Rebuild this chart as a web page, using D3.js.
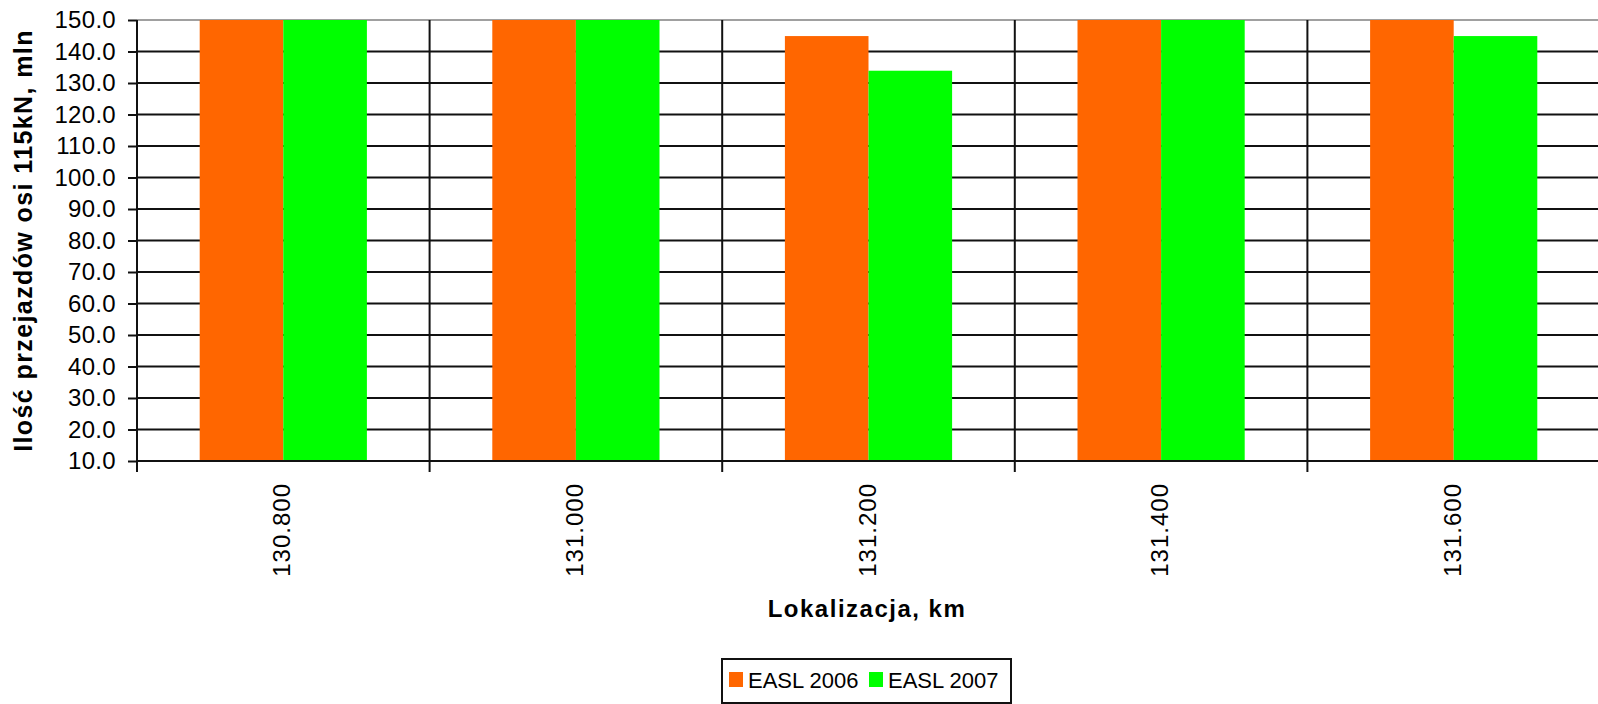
<!DOCTYPE html>
<html>
<head>
<meta charset="utf-8">
<script src="https://cdn.jsdelivr.net/npm/d3@7/dist/d3.min.js"></script>
<style>
  body { margin: 0; background: #fff; }
  text { font-family: Arial, "Liberation Sans", sans-serif; fill: #000; }
</style>
</head>
<body>
<div id="chart"></div>
<script>
// data (bars above 150 are clipped by the axis)
var categories = ["130.800", "131.000", "131.200", "131.400", "131.600"];
var seriesNames = ["EASL 2006", "EASL 2007"];
var easl2006 = [150, 150, 144.9, 150, 150];
var easl2007 = [150, 150, 133.9, 150, 144.9];
var yTicks = [10, 20, 30, 40, 50, 60, 70, 80, 90, 100, 110, 120, 130, 140, 150];
var colors = ["#ff6600", "#00ff00"];

var width = 1598, height = 704;
var margin = { left: 137, top: 20, right: -2, bottom: 243 };
var plotW = width - margin.left - margin.right,
	plotH = height - margin.top - margin.bottom;

var svg = d3.select("#chart").append("svg")
	.attr("width", width)
	.attr("height", height);

var x = d3.scaleBand()
	.domain(categories)
	.range([margin.left, margin.left + plotW])
	.padding(0);

// gap of 1.5 bar widths per category, split on both sides
var inner = d3.scaleBand()
	.domain(seriesNames)
	.range([0, x.bandwidth()])
	.paddingInner(0)
	.paddingOuter(0.75);

var y = d3.scaleLinear()
	.domain([10, 150])
	.range([margin.top + plotH, margin.top]);

//
// grid
//
var grid = svg.append("g").attr("class", "grid");
grid.selectAll("line.h")
	.data(yTicks)
	.enter()
	.append("line")
	.attr("x1", margin.left)
	.attr("x2", margin.left + plotW)
	.attr("y1", function(d) { return y(d); })
	.attr("y2", function(d) { return y(d); })
	.attr("stroke", function(d) { return d === 150 ? "#a0a0a0" : "#111"; })
	.attr("stroke-width", 2);

grid.selectAll("line.v")
	.data(categories.slice(1))
	.enter()
	.append("line")
	.attr("x1", function(d) { return x(d); })
	.attr("x2", function(d) { return x(d); })
	.attr("y1", margin.top)
	.attr("y2", margin.top + plotH)
	.attr("stroke", "#111")
	.attr("stroke-width", 2);

//
// bars
//
var rows = categories.map(function(c, i) {
	return { cat: c, vals: [easl2006[i], easl2007[i]] };
});

var groups = svg.append("g").attr("class", "bars")
	.selectAll("g")
	.data(rows)
	.enter()
	.append("g")
	.attr("transform", function(d) { return "translate(" + x(d.cat) + ",0)"; });

groups.selectAll("rect")
	.data(function(d) { return d.vals.map(function(v, i) { return { s: seriesNames[i], v: v, i: i }; }); })
	.enter()
	.append("rect")
	.attr("x", function(d) { return inner(d.s); })
	.attr("width", inner.bandwidth())
	.attr("y", function(d) { return y(Math.min(d.v, 150)); })
	.attr("height", function(d) { return y(10) - y(Math.min(d.v, 150)); })
	.attr("fill", function(d) { return colors[d.i]; });

//
// axes
//
var yAxis = svg.append("g")
	.attr("transform", "translate(" + margin.left + ",0)")
	.call(d3.axisLeft(y).tickValues(yTicks).tickFormat(d3.format(".1f")).tickSize(9).tickPadding(12));
yAxis.select(".domain").attr("stroke", "#111").attr("stroke-width", 2)
	.attr("d", "M0," + y(150) + "V" + (y(10) + 11));
yAxis.selectAll(".tick line").attr("stroke", "#111").attr("stroke-width", 2);
yAxis.selectAll(".tick text")
	.attr("font-size", 24)
	.attr("font-family", "Arial, 'Liberation Sans', sans-serif")
	.attr("letter-spacing", 0.3)
	.attr("fill", "#000");

var xAxis = svg.append("g")
	.attr("transform", "translate(0," + y(10) + ")");
xAxis.append("line")
	.attr("x1", margin.left).attr("x2", width)
	.attr("stroke", "#111").attr("stroke-width", 2);
xAxis.selectAll("line.tk")
	.data(categories.slice(1))
	.enter()
	.append("line")
	.attr("x1", function(d) { return x(d); })
	.attr("x2", function(d) { return x(d); })
	.attr("y1", 0).attr("y2", 11)
	.attr("stroke", "#111").attr("stroke-width", 2);
xAxis.selectAll("text")
	.data(categories)
	.enter()
	.append("text")
	.attr("transform", function(d) {
		return "translate(" + (x(d) + x.bandwidth() / 2 + 7) + ",22) rotate(-90)";
	})
	.attr("text-anchor", "end")
	.attr("font-size", 24)
	.attr("letter-spacing", 1)
	.text(function(d) { return d; });

//
// titles
//
svg.append("text")
	.attr("transform", "translate(32," + (margin.top + plotH / 2) + ") rotate(-90)")
	.attr("text-anchor", "middle")
	.attr("font-size", 25)
	.attr("font-weight", "bold")
	.attr("letter-spacing", 1.4)
	.text("Ilość przejazdów osi 115kN, mln");

svg.append("text")
	.attr("x", 867)
	.attr("y", 617)
	.attr("text-anchor", "middle")
	.attr("font-size", 24)
	.attr("font-weight", "bold")
	.attr("letter-spacing", 1.5)
	.text("Lokalizacja, km");

//
// legend
//
var legend = svg.append("g").attr("transform", "translate(722,659)");
legend.append("rect")
	.attr("x", 0).attr("y", 0)
	.attr("width", 289).attr("height", 44)
	.attr("fill", "#fff").attr("stroke", "#111").attr("stroke-width", 2);

var items = legend.selectAll("g.item")
	.data(seriesNames)
	.enter()
	.append("g")
	.attr("transform", function(d, i) { return "translate(" + (7 + i * 140) + ",0)"; });
items.append("rect")
	.attr("x", 0).attr("y", 13)
	.attr("width", 14).attr("height", 15)
	.attr("fill", function(d, i) { return colors[i]; });
items.append("text")
	.attr("x", 19).attr("y", 29)
	.attr("font-size", 22)
	.text(function(d) { return d; });
</script>
</body>
</html>
